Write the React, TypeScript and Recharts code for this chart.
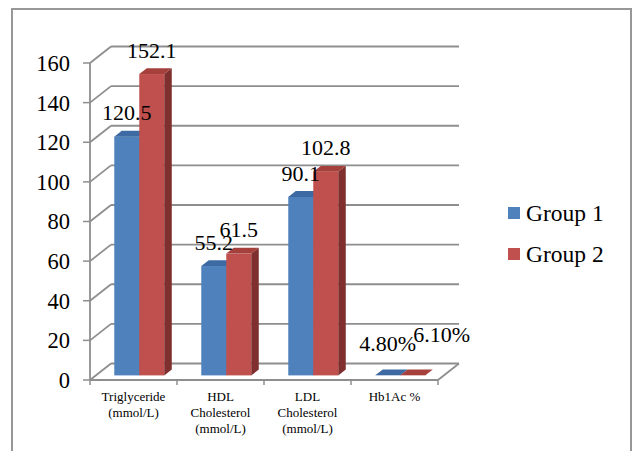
import React from 'react';
import { BarChart, Bar, XAxis, YAxis, CartesianGrid, Legend, LabelList } from 'recharts';

// ---------- data ----------
const categoryNames = ['Triglyceride (mmol/L)', 'HDL Cholesterol (mmol/L)', 'LDL Cholesterol (mmol/L)', 'Hb1Ac %'];
const categoryLines = [
  ['Triglyceride', '(mmol/L)'],
  ['HDL', 'Cholesterol', '(mmol/L)'],
  ['LDL', 'Cholesterol', '(mmol/L)'],
  ['Hb1Ac %'],
];
const seriesNames = ['Group 1', 'Group 2'];
const group1Values = [120.5, 55.2, 90.1, 0.048];
const group2Values = [152.1, 61.5, 102.8, 0.061];
const group1Labels = ['120.5', '55.2', '90.1', '4.80%'];
const group2Labels = ['152.1', '61.5', '102.8', '6.10%'];
const yTicks = [0, 20, 40, 60, 80, 100, 120, 140, 160];

const data = categoryNames.map((name, i) => ({
  name,
  g1: group1Values[i],
  g2: group2Values[i],
  g1Label: group1Labels[i],
  g2Label: group2Labels[i],
}));

// ---------- layout / style ----------
const W = 633;
const H = 451;
const PLOT_LEFT = 90;
const PLOT_RIGHT = 438;
const PLOT_TOP = 63;
const PLOT_BOTTOM = 380;
const BAND = (PLOT_RIGHT - PLOT_LEFT) / categoryNames.length;
const DX = 21; // wall depth
const DY = -16.5;
const SX = 6; // bar plane shift
const SY = -4.6;
const BDX = 7.5; // bar depth
const BDY = -5.8;
const GRID = '#8e8e8e';
const FONT = '"Liberation Serif", "Times New Roman", serif';

const COLORS = [
  { front: '#4F81BD', top: '#3D6AA2', side: '#385D8A' },
  { front: '#C0504D', top: '#A6403D', side: '#7F2F2D' },
];

const renderGridLine = (p: any) => {
  const { x1, x2, y1 } = p;
  const isFloor = Math.abs(y1 - PLOT_BOTTOM) < 1;
  return (
    <g key={p.key}>
      <line x1={x1} y1={y1} x2={x1 + DX} y2={y1 + DY} stroke={GRID} strokeWidth={1.8} />
      <line x1={x1 + DX} y1={y1 + DY} x2={x2 + DX} y2={y1 + DY} stroke={GRID} strokeWidth={1.8} />
      {isFloor && <line x1={x2} y1={y1} x2={x2 + DX} y2={y1 + DY} stroke={GRID} strokeWidth={1.8} />}
    </g>
  );
};

const make3DBar = (c: { front: string; top: string; side: string }) => (p: any) => {
  const { x, y, width, height } = p;
  if (x == null || y == null) return <g />;
  const fx = x + SX;
  const fy = y + SY;
  const h = Math.max(height || 0, 0);
  return (
    <g>
      <rect x={fx} y={fy} width={width} height={h} fill={c.front} />
      <polygon
        points={`${fx},${fy} ${fx + width},${fy} ${fx + width + BDX},${fy + BDY} ${fx + BDX},${fy + BDY}`}
        fill={c.top}
      />
      <polygon
        points={`${fx + width},${fy} ${fx + width + BDX},${fy + BDY} ${fx + width + BDX},${fy + h + BDY} ${fx + width},${fy + h}`}
        fill={c.side}
      />
    </g>
  );
};

const makeLabel = (seriesIdx: number) => (p: any) => {
  const { x, y, width, value, index } = p;
  if (x == null) return null;
  const raw = seriesIdx === 0 ? group1Values[index] : group2Values[index];
  let cx = x + SX + width / 2;
  let cy = y + SY - 24;
  if (raw < 1) {
    if (seriesIdx === 0) {
      cy -= 8;
    } else {
      cx += 29;
      cy -= 17;
    }
  }
  return (
    <text x={cx} y={cy} dy="0.35em" textAnchor="middle" fontSize={22} fontFamily={FONT} fill="#000">
      {value}
    </text>
  );
};

const XTick = (p: any) => {
  const { x, y, index } = p;
  const lines = categoryLines[index] || [];
  const left = x - BAND / 2;
  const right = x + BAND / 2;
  return (
    <g>
      <line x1={left} y1={y} x2={left} y2={y + 5} stroke={GRID} strokeWidth={1.5} />
      {index === categoryNames.length - 1 && (
        <line x1={right} y1={y} x2={right} y2={y + 5} stroke={GRID} strokeWidth={1.5} />
      )}
      <text x={x} y={y + 20.5} textAnchor="middle" fontSize={13} fontFamily={FONT} fill="#000">
        {lines.map((l, i) => (
          <tspan key={i} x={x} dy={i === 0 ? 0 : 16}>
            {l}
          </tspan>
        ))}
      </text>
    </g>
  );
};

const LegendContent = () => (
  <div style={{ fontFamily: FONT, fontSize: 23.5, color: '#000' }}>
    {seriesNames.map((n, i) => (
      <div key={n} style={{ height: 41, display: 'flex', alignItems: 'center' }}>
        <div style={{ width: 12, height: 12, background: COLORS[i].front, marginRight: 6 }} />
        <span style={{ whiteSpace: 'nowrap' }}>{n}</span>
      </div>
    ))}
  </div>
);

export default function App() {
  return (
    <div
      style={{
        position: 'absolute',
        left: 0,
        top: 0,
        width: W,
        height: H,
        overflow: 'hidden',
        background: '#fff',
      }}
    >
      <div
        style={{
          position: 'absolute',
          left: 11,
          top: 8,
          width: 621,
          height: 470,
          border: '2px solid #979797',
          boxSizing: 'border-box',
        }}
      />
      <div style={{ position: 'absolute', left: 0, top: 0 }}>
        <BarChart
          width={W}
          height={H}
          data={data}
          margin={{ top: PLOT_TOP, right: W - PLOT_RIGHT, bottom: 0, left: 0 }}
          barCategoryGap="21%"
          barGap={0}
        >
          <CartesianGrid vertical={false} horizontal={renderGridLine} />
          <XAxis
            dataKey="name"
            height={H - PLOT_BOTTOM}
            axisLine={{ stroke: GRID, strokeWidth: 1.8 }}
            tickLine={false}
            tickSize={0}
            tickMargin={0}
            interval={0}
            tick={<XTick />}
          />
          <YAxis
            width={PLOT_LEFT}
            domain={[0, 160]}
            ticks={yTicks}
            interval={0}
            axisLine={{ stroke: GRID, strokeWidth: 1.8 }}
            tickLine={{ stroke: GRID, strokeWidth: 1.5 }}
            tickSize={7}
            tickMargin={13}
            tick={{ fill: '#000', fontSize: 22.5, fontFamily: FONT }}
          />
          <Legend
            layout="vertical"
            align="center"
            verticalAlign="middle"
            wrapperStyle={{ left: 508, top: 192.5, width: 124, height: 82 }}
            content={<LegendContent />}
          />
          <Bar dataKey="g1" name={seriesNames[0]} fill={COLORS[0].front} isAnimationActive={false} shape={make3DBar(COLORS[0])}>
            <LabelList dataKey="g1Label" content={makeLabel(0)} />
          </Bar>
          <Bar dataKey="g2" name={seriesNames[1]} fill={COLORS[1].front} isAnimationActive={false} shape={make3DBar(COLORS[1])}>
            <LabelList dataKey="g2Label" content={makeLabel(1)} />
          </Bar>
        </BarChart>
      </div>
    </div>
  );
}
